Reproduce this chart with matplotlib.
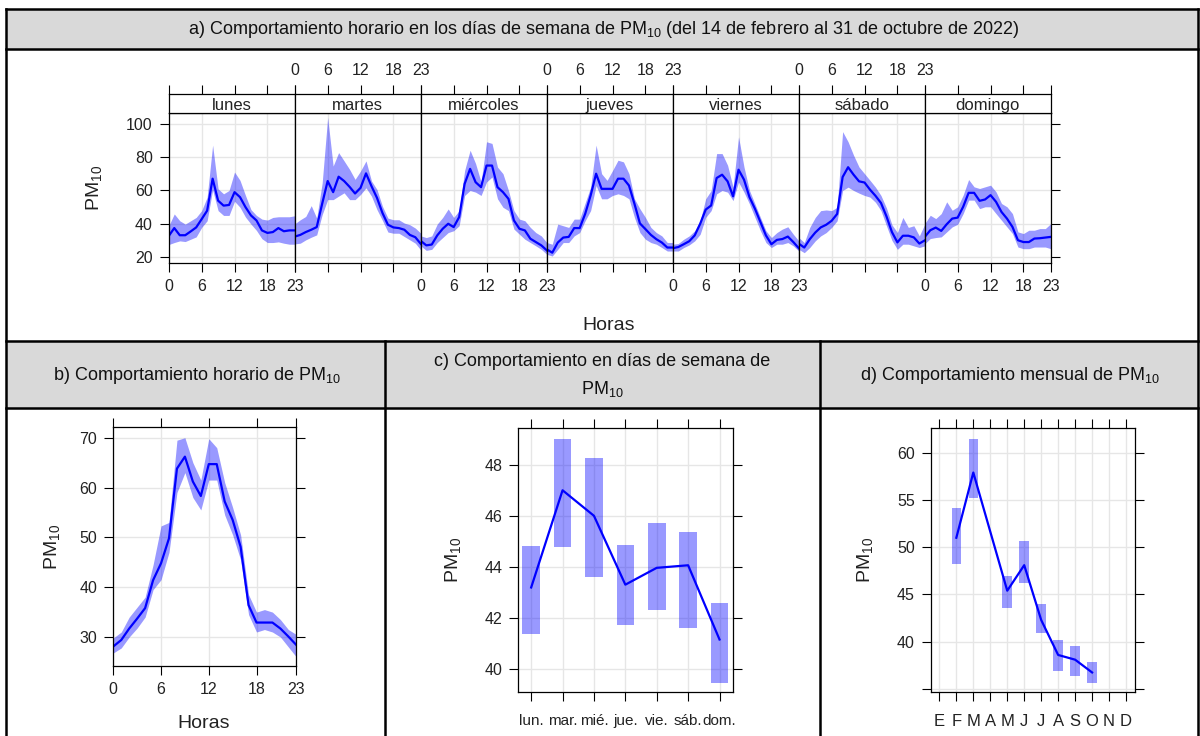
import numpy as np
import matplotlib
matplotlib.use("Agg")
import matplotlib.pyplot as plt
from matplotlib.patches import Rectangle

plt.rcParams['font.family'] = ['Liberation Sans', 'DejaVu Sans']
plt.rcParams['mathtext.fontset'] = 'custom'
plt.rcParams['mathtext.rm'] = 'Liberation Sans'
plt.rcParams['mathtext.it'] = 'Liberation Sans:italic'

# ---- datos: perfil horario por dia de semana (media e intervalo) ----
horas = list(range(24))
dias = ["lunes", "martes", "miércoles", "jueves", "viernes", "sábado", "domingo"]

pm_lun = [32.7, 37.4, 33.1, 33.1, 35.4, 37.8, 42.8, 47.9, 67.1, 53.9, 50.9, 51.3,
          59.0, 56.0, 50.0, 45.0, 42.0, 36.0, 34.5, 35.0, 37.4, 35.5, 36.0, 36.0]
lo_lun = [27.5, 28.7, 29.7, 29.3, 30.7, 32.1, 37.8, 41.8, 60.4, 47.9, 45.0, 45.0,
          53.5, 49.9, 44.0, 39.8, 36.0, 31.0, 28.7, 28.7, 29.1, 28.3, 27.7, 27.7]
hi_lun = [38.8, 45.9, 41.8, 39.8, 41.8, 43.8, 47.9, 56.0, 87.3, 61.0, 58.0, 60.0,
          71.1, 66.1, 57.0, 48.5, 45.0, 42.8, 42.2, 43.8, 44.2, 44.2, 44.2, 44.8]

pm_mar = [32.3, 33.3, 35.0, 36.4, 38.0, 52.1, 65.7, 59.0, 68.3, 65.7, 62.2, 58.2,
          61.6, 70.3, 62.6, 55.6, 46.5, 39.4, 37.8, 37.4, 36.4, 33.3, 31.9, 27.9]
lo_mar = [27.9, 28.3, 30.3, 31.9, 33.3, 45.5, 54.5, 54.5, 56.6, 58.6, 54.5, 54.5,
          57.6, 61.6, 56.6, 48.5, 42.0, 35.0, 34.3, 34.3, 32.3, 30.3, 28.3, 24.2]
hi_mar = [40.0, 42.4, 44.4, 50.9, 43.4, 64.6, 104.0, 74.7, 82.8, 77.8, 72.7, 66.7,
          71.7, 77.8, 65.7, 60.6, 50.5, 43.4, 42.4, 42.4, 40.4, 39.4, 37.4, 34.3]

pm_mie = [29.7, 27.0, 27.5, 33.0, 37.0, 40.0, 38.0, 44.0, 64.0, 73.0, 65.0, 62.0,
          75.0, 75.0, 62.0, 59.0, 55.0, 42.0, 37.0, 36.0, 31.0, 29.0, 27.0, 24.0]
lo_mie = [26.7, 24.0, 24.6, 28.7, 31.7, 34.7, 35.8, 38.8, 57.0, 60.0, 59.0, 57.0,
          65.1, 68.1, 55.0, 49.9, 47.9, 36.8, 33.7, 30.7, 28.7, 26.7, 24.6, 21.6]
hi_mie = [32.7, 31.7, 32.7, 39.8, 43.8, 48.9, 43.8, 47.9, 72.0, 84.2, 76.2, 65.1,
          89.3, 88.3, 74.1, 70.1, 60.0, 47.9, 42.8, 41.8, 37.8, 34.7, 32.7, 28.7]

pm_jue = [24.6, 22.6, 28.7, 31.7, 32.1, 37.4, 37.4, 45.9, 57.0, 70.1, 61.0, 61.0,
          61.0, 67.1, 67.1, 63.0, 52.0, 40.2, 36.8, 33.3, 30.7, 28.7, 25.7, 25.7]
lo_jue = [21.6, 20.6, 24.6, 28.7, 28.7, 32.7, 34.7, 41.8, 47.9, 63.0, 55.0, 55.0,
          57.0, 58.0, 57.0, 55.0, 43.8, 34.7, 30.7, 28.7, 27.7, 25.7, 23.6, 23.6]
hi_jue = [28.7, 27.7, 39.8, 38.8, 37.8, 42.8, 42.8, 52.5, 62.0, 87.3, 70.1, 66.1,
          72.0, 78.2, 77.2, 70.1, 55.0, 49.0, 43.8, 37.8, 34.7, 32.7, 28.7, 28.7]

pm_vie = [25.3, 26.0, 27.7, 29.5, 33.0, 40.0, 48.5, 51.0, 67.5, 69.5, 65.5, 56.5,
          72.5, 66.5, 56.0, 49.0, 41.0, 33.0, 27.7, 30.3, 30.8, 32.3, 29.0, 25.3]
lo_vie = [23.6, 23.6, 25.7, 27.3, 29.7, 33.7, 43.8, 47.9, 58.0, 60.0, 59.0, 53.9,
          65.1, 59.0, 51.9, 43.8, 35.8, 28.7, 25.7, 27.7, 27.7, 28.7, 26.7, 23.6]
hi_vie = [27.7, 28.1, 30.7, 32.7, 35.8, 41.8, 55.0, 60.0, 82.2, 82.2, 75.2, 62.0,
          92.3, 74.1, 60.0, 51.9, 43.8, 35.8, 31.7, 34.7, 36.8, 38.2, 33.7, 29.7]

pm_sab = [28.0, 25.7, 30.7, 34.7, 37.8, 39.4, 41.8, 45.9, 68.1, 74.0, 69.5, 65.5,
          64.8, 60.5, 56.8, 52.5, 44.5, 35.0, 28.8, 32.8, 32.8, 31.8, 28.1, 30.0]
lo_sab = [24.6, 22.6, 25.7, 29.7, 32.7, 34.7, 37.8, 41.8, 60.0, 62.0, 60.0, 58.4,
          57.0, 56.0, 52.9, 47.9, 38.8, 30.0, 24.6, 27.7, 27.7, 26.7, 25.7, 26.7]
hi_sab = [31.7, 28.7, 37.8, 43.8, 47.9, 48.3, 47.9, 49.9, 95.4, 89.3, 81.2, 74.1,
          70.1, 66.1, 62.0, 57.0, 49.5, 39.4, 34.7, 43.8, 37.8, 38.8, 32.7, 39.8]

pm_dom = [32.1, 36.1, 37.7, 35.7, 39.7, 43.1, 43.7, 50.2, 58.6, 58.6, 53.8, 54.6,
          57.2, 53.2, 47.1, 43.1, 38.1, 30.1, 29.0, 29.0, 31.1, 31.3, 31.7, 32.1]
lo_dom = [28.0, 31.1, 31.7, 32.1, 35.1, 38.1, 39.7, 46.1, 54.2, 54.2, 49.1, 50.2,
          50.2, 46.1, 42.1, 38.1, 34.1, 26.0, 25.0, 25.0, 26.0, 26.0, 26.0, 25.0]
hi_dom = [40.1, 45.1, 43.1, 46.1, 53.2, 48.1, 50.2, 57.2, 66.6, 62.2, 61.2, 62.2,
          63.2, 59.2, 52.2, 50.2, 46.1, 35.1, 34.1, 36.1, 36.1, 37.1, 37.1, 40.1]

# ---- datos: perfil horario general ----
pm_hora = [28.1, 29.4, 31.7, 33.7, 35.8, 41.4, 44.8, 49.8, 63.8, 66.2, 61.2, 58.3,
           64.7, 64.7, 57.2, 53.5, 48.1, 36.4, 32.9, 32.9, 32.9, 31.7, 30.1, 28.4]
lo_hora = [26.8, 27.8, 30.0, 31.8, 34.0, 39.5, 41.5, 47.0, 59.0, 63.0, 58.0, 55.5,
           61.5, 61.5, 54.5, 50.5, 45.5, 34.5, 31.0, 31.5, 31.0, 30.0, 28.0, 26.0]
hi_hora = [29.8, 31.0, 34.0, 36.0, 38.0, 44.5, 52.3, 53.0, 69.5, 70.0, 65.0, 61.5,
           69.8, 68.0, 61.0, 56.0, 50.5, 38.5, 35.0, 35.5, 35.0, 33.5, 31.5, 30.5]

# ---- datos: dia de semana ----
dias_cortos = ["lun.", "mar.", "mié.", "jue.", "vie.", "sáb.", "dom."]
pm_dia = [43.18, 46.99, 45.99, 43.29, 43.95, 44.05, 41.14]
lo_dia = [41.35, 44.77, 43.60, 41.69, 42.30, 41.60, 39.44]
hi_dia = [44.80, 49.00, 48.27, 44.85, 45.70, 45.35, 42.59]

# ---- datos: mensual ----
meses = ["E", "F", "M", "A", "M", "J", "J", "A", "S", "O", "N", "D"]
pm_mes = [np.nan, 51.0, 57.9, np.nan, 45.4, 48.1, 42.3, 38.6, 38.1, 36.75, np.nan, np.nan]
lo_mes = [np.nan, 48.2, 55.2, np.nan, 43.6, 46.2, 40.9, 36.9, 36.4, 35.6, np.nan, np.nan]
hi_mes = [np.nan, 54.2, 61.5, np.nan, 47.0, 50.65, 44.0, 40.2, 39.5, 37.9, np.nan, np.nan]

pm_semana = [pm_lun, pm_mar, pm_mie, pm_jue, pm_vie, pm_sab, pm_dom]
lo_semana = [lo_lun, lo_mar, lo_mie, lo_jue, lo_vie, lo_sab, lo_dom]
hi_semana = [hi_lun, hi_mar, hi_mie, hi_jue, hi_vie, hi_sab, hi_dom]

LINE = "#0000FF"
BAND = (0, 0, 1, 0.4)
GRID = "#e6e6e6"
PM = r"$\mathregular{PM_{10}}$"

W, H = 1200, 736
fig = plt.figure(figsize=(12, 7.36), dpi=100)


def box(x0, y0, x1, y1):
    return [x0 / W, 1 - y1 / H, (x1 - x0) / W, (y1 - y0) / H]


# tabla de fondo
bg = fig.add_axes([0, 0, 1, 1], zorder=0)
bg.set_xlim(0, W)
bg.set_ylim(H, 0)
bg.axis("off")
bg.add_patch(Rectangle((6, 9), 1192, 40, fc="#d9d9d9", ec="none"))
bg.add_patch(Rectangle((6, 341), 1192, 67, fc="#d9d9d9", ec="none"))
lk = dict(color="black", lw=1.8, solid_capstyle="projecting")
for y in (9, 49, 341, 408):
    bg.plot([6, 1198], [y, y], **lk)
bg.plot([6, 6], [9, 736], **lk)
bg.plot([1198, 1198], [9, 736], **lk)
bg.plot([385, 385], [341, 736], **lk)
bg.plot([820, 820], [341, 736], **lk)

hk = dict(fontsize=13, ha="center", va="center", color="#111111")
bg.text(604, 30, "a) Comportamiento horario en los días de semana de " + PM +
        " (del 14 de febrero al 31 de octubre de 2022)", **hk)
bg.text(197, 375, "b) Comportamiento horario de " + PM, **hk)
bg.text(602, 362, "c) Comportamiento en días de semana de", **hk)
bg.text(602, 389, PM, **hk)
bg.text(1010, 375, "d) Comportamiento mensual de " + PM, **hk)

lab = dict(fontsize=14, ha="center", va="center", color="#222222")
bg.text(609, 325, "Horas", **lab)
bg.text(94, 188, "PM$_{10}$", rotation=90, **lab)
bg.text(204, 724, "Horas", **lab)
bg.text(52, 547, "PM$_{10}$", rotation=90, **lab)
bg.text(453, 560, "PM$_{10}$", rotation=90, **lab)
bg.text(865, 560, "PM$_{10}$", rotation=90, **lab)

TICK = dict(direction="out", length=6.5, width=0.8, labelsize=11.5,
            colors="black", labelcolor="#222222", pad=5)


def frame(ax):
    for s in ax.spines.values():
        s.set_linewidth(0.9)
    ax.set_axisbelow(True)


# ---- a) paneles por dia ----
ancho = 126.0
x_ini = 168.8
for i, dia in enumerate(dias):
    x0 = x_ini + i * ancho
    ax = fig.add_axes(box(x0, 113, x0 + ancho, 263), zorder=2)
    ax.fill_between(horas, lo_semana[i], hi_semana[i], color=BAND, lw=0)
    ax.plot(horas, pm_semana[i], color=LINE, lw=1.6)
    ax.set_xlim(0, 23)
    ax.set_ylim(16.4, 106.6)
    ax.set_xticks([0, 6, 12, 18, 23])
    ax.set_yticks([20, 40, 60, 80, 100])
    ax.grid(color=GRID, lw=1)
    frame(ax)
    ax.tick_params(**TICK)
    ax.tick_params(axis="x", top=False, labelbottom=(i % 2 == 0))
    ax.tick_params(axis="y", left=(i == 0), labelleft=(i == 0),
                   right=(i == 6), labelright=False)

    st = fig.add_axes(box(x0, 94.3, x0 + ancho, 113), zorder=2)
    st.set_xlim(0, 23)
    st.set_ylim(0, 1)
    st.set_xticks([0, 6, 12, 18, 23])
    st.set_yticks([])
    frame(st)
    st.tick_params(**TICK)
    st.tick_params(axis="x", bottom=False, labelbottom=False, top=True,
                   labeltop=(i % 2 == 1))
    st.text(0.5, 0.42, dia, transform=st.transAxes, ha="center", va="center",
            fontsize=12, color="#222222")

# ---- b) horario ----
ax = fig.add_axes(box(113.3, 427.3, 296.3, 665.7), zorder=2)
ax.fill_between(horas, lo_hora, hi_hora, color=BAND, lw=0)
ax.plot(horas, pm_hora, color=LINE, lw=1.6)
ax.set_xlim(0, 23)
ax.set_ylim(24.24, 72.09)
ax.set_xticks([0, 6, 12, 18, 23])
ax.set_yticks([30, 40, 50, 60, 70])
ax.grid(color=GRID, lw=1)
frame(ax)
ax.tick_params(**TICK)
ax.tick_params(top=True, right=True)

# ---- c) dia de semana ----
ax = fig.add_axes(box(518.3, 428.3, 732.7, 692.3), zorder=2)
xd = np.arange(len(dias_cortos))
ax.bar(xd, np.array(hi_dia) - np.array(lo_dia), bottom=lo_dia, width=0.56,
       color=BAND, lw=0)
ax.plot(xd, pm_dia, color=LINE, lw=1.6)
ax.set_xlim(-0.41, 6.42)
ax.set_ylim(39.07, 49.42)
ax.set_xticks(xd)
ax.set_xticklabels(dias_cortos)
ax.set_yticks([40, 42, 44, 46, 48])
ax.grid(color=GRID, lw=1)
frame(ax)
ax.tick_params(**TICK)
ax.tick_params(top=True, right=True)
ax.tick_params(axis="x", pad=9, labelsize=11)

# ---- d) mensual ----
ax = fig.add_axes(box(930.7, 428.3, 1134.7, 692.3), zorder=2)
xm = np.arange(1, 13)
pm_m = np.array(pm_mes)
ok = ~np.isnan(pm_m)
ax.bar(xm[ok], (np.array(hi_mes) - np.array(lo_mes))[ok],
       bottom=np.array(lo_mes)[ok], width=0.56, color=BAND, lw=0)
ax.plot(xm[ok], pm_m[ok], color=LINE, lw=1.6)
ax.set_xlim(0.49, 12.51)
ax.set_ylim(34.65, 62.58)
ax.set_xticks(xm)
ax.set_xticklabels(meses)
ax.set_yticks([35, 40, 45, 50, 55, 60])
ax.set_yticklabels(["", "40", "45", "50", "55", "60"])
ax.grid(color=GRID, lw=1)
frame(ax)
ax.tick_params(**TICK)
ax.tick_params(top=True, right=True)
ax.tick_params(axis="x", pad=9, labelsize=12)

fig.savefig("out.png", dpi=100)
